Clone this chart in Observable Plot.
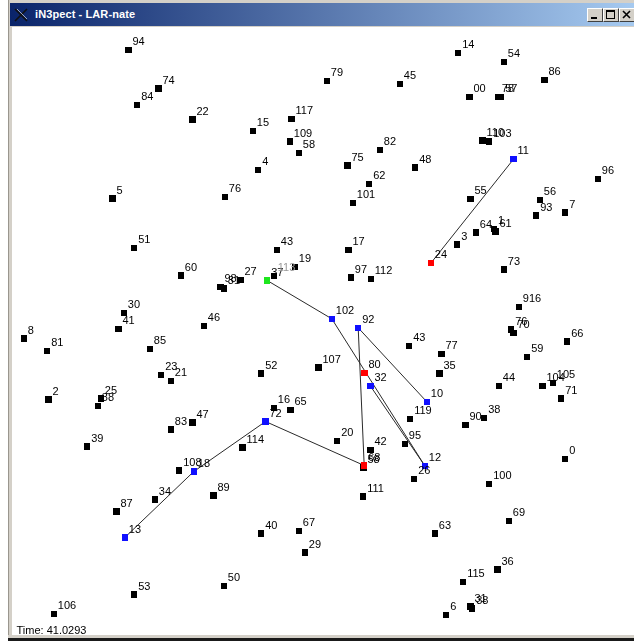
<!DOCTYPE html>
<html><head><meta charset="utf-8">
<script src="https://cdn.jsdelivr.net/npm/d3@7"></script>
<script src="https://cdn.jsdelivr.net/npm/@observablehq/plot@0.6"></script>
<style>
html,body{margin:0;padding:0;width:634px;height:641px;overflow:hidden;background:#fff;}
#outer{position:absolute;left:8px;top:0;width:626px;height:641px;background:#d4d0c8;border-left:1px solid #9a968e;box-sizing:border-box;}
#title{position:absolute;left:10px;top:3px;width:624px;height:23px;background:linear-gradient(to right,#0a246a 0%,#a6caf0 100%);}
#title .txt{position:absolute;left:25px;top:5px;color:#fff;font:bold 11px "Liberation Sans",Arial,sans-serif;white-space:nowrap;letter-spacing:0.1px;}
#title svg.icon{position:absolute;left:4px;top:5px;}
.btn{position:absolute;top:5px;width:16px;height:14px;background:#d4d0c8;box-sizing:border-box;border-top:1px solid #fff;border-left:1px solid #fff;border-right:1px solid #404040;border-bottom:1px solid #404040;}
.btn svg{position:absolute;left:0;top:0;}
#canvas{position:absolute;left:12px;top:27px;width:622px;height:608px;background:#fff;}
#canvas svg{will-change:transform;}
#bottom{position:absolute;left:8px;top:635px;width:626px;height:6px;background:#d4d0c8;border-bottom:3px solid #1a1a1a;box-sizing:border-box;}
</style>
</head><body>
<div id="outer"></div>
<div id="title">
  <svg class="icon" width="14" height="14"><path d="M1,1 L13,13 M13,1 L1,13" stroke="#111" stroke-width="1.6"/><path d="M3,1 L13,11" stroke="#fff" stroke-width="0.6"/></svg>
  <div class="txt">iN3pect - LAR-nate</div>
  <div class="btn" style="left:577px"><svg width="14" height="12"><rect x="3" y="8" width="6" height="2" fill="#000"/></svg></div>
  <div class="btn" style="left:593px"><svg width="14" height="12"><rect x="2.5" y="1.5" width="8" height="8" fill="none" stroke="#000"/><rect x="2" y="1" width="9" height="2" fill="#000"/></svg></div>
  <div class="btn" style="left:609px"><svg width="14" height="12"><path d="M3,2 L10,9 M10,2 L3,9" stroke="#000" stroke-width="1.6"/></svg></div>
</div>
<div id="canvas"></div>
<div id="bottom"></div>
<script>
// Node labels and positions (screen units of the simulation canvas)
const nodeLabel = ["94","74","84","22","5","79","45","117","15","109","58","82","75","48","4","62","76","101",
  "14","54","86","00","78","57","110","103","11","96","55","56","93","7","64","1","61","3","24","73","916",
  "76","70","66","77","59","35","44","104","105","71","10","119","90","38",
  "51","60","30","41","46","8","81","85","23","21","2","25","88","83","47",
  "98","31","27","37","113","19","43","17","97","112","102","92","43","107","52","80","32","16","65","72",
  "39","114","108","18","87","34","13","53","106","89","20","42","68","58","95","12","26","111",
  "40","67","29","50","0","100","69","63","36","115","31","38","6"];
const nodeX = [128,158,136.7,192,112,326.3,399.3,291,252.3,289.3,298.3,379.3,347,414.7,257.7,368.7,224.3,352.3,
  457.7,503.3,544,469,497.3,500.7,482,488.7,513,597.3,470,539.3,535.7,564.7,475.3,493.5,495,456.7,430.3,503.3,518.3,
  510.7,513,566.7,441,526.7,439,498.3,542,552.3,560.7,426.3,409.7,465,483.7,
  133.7,180.3,123.3,118,203.3,23.3,46.7,149.3,160.7,170.3,48,100.3,97.3,170.3,192,
  220,223.3,240,266.7,273.3,294.3,276.3,348,350.3,370.3,331.3,357.7,408.7,318,260.7,364,370,273.3,290,265,
  86.7,242,178.7,193.3,116,154.3,124.3,133.7,53.3,213,336.7,370,363.7,363,404.3,424.3,413.7,362.7,
  260.7,298.3,304.3,223.3,564.7,488.7,508.3,434.3,497,462.7,470,471.7,445.7];
const nodeY = [49.3,88,104.7,119,198,80.7,83.7,118.3,130.7,141,152.3,149.3,165,167,169.3,183.3,196.3,202.7,
  52.7,61.3,79.3,96.3,96.3,96.3,140,141,158.7,178.7,198.3,199.3,215,212,232,228.5,231,244,262.7,269,306.3,
  329,332.3,341,353.3,356.7,373,385.7,385.7,382.7,398,401.3,418.3,424.3,417.3,
  247.3,275,312.7,328.3,325.7,338,350.3,348.7,374.3,380.3,399,398,405.3,429,422,
  286.7,288,279.7,280,275.7,266.5,249.7,249.7,277,278.7,318.3,327.3,345.3,367,373,372.7,385.7,407.3,409.3,421,
  446,447,470,471,511,499,537,594,613.7,495,440.3,449.3,465,467,443.3,465.3,478.3,496,
  533,530.3,552,585.7,458.7,483.7,520.3,533,569,581.7,606,608,614.7];

// Node roles
const relayNodes = ["11","10","12","32","92","102","72","18","13"];
const alertNodes = ["24","80","68"];
const sourceNodes = ["37"];
const faintLabels = ["113"];
const stateNames = ["idle","relay","alert","source"];
const stateColors = ["#000000","#1010ff","#ff0000","#1ee61e"];

// Active links (from -> to)
const edgeFrom = ["13","18","72","68","37","102","32","92","24"];
const edgeTo   = ["18","72","68","92","102","12","12","10","11"];

const timeText = "Time: 41.0293";

const nodes = nodeLabel.map((label, i) => ({
  label, x: nodeX[i], y: nodeY[i],
  state: relayNodes.includes(label) ? "relay" : alertNodes.includes(label) ? "alert" : sourceNodes.includes(label) ? "source" : "idle"
}));
const byLabel = new Map();
nodes.forEach(n => { if (!byLabel.has(n.label)) byLabel.set(n.label, n); });
const edges = edgeFrom.map((f, i) => ({a: byLabel.get(f), b: byLabel.get(edgeTo[i])}));

const W = 622, H = 608;
const font = "Liberation Sans, Arial, sans-serif";
const chart = Plot.plot({
  width: W, height: H, margin: 0,
  style: {background: "transparent", overflow: "visible"},
  x: {domain: [12, 634], range: [0, W], axis: null},
  y: {domain: [27, 635], range: [0, H], axis: null},
  color: {domain: stateNames, range: stateColors},
  marks: [
    Plot.link(edges, {x1: d => d.a.x, y1: d => d.a.y, x2: d => d.b.x, y2: d => d.b.y, stroke: "#2a2a2a", strokeWidth: 1}),
    Plot.dot(nodes.filter(d => d.state === "idle"), {x: "x", y: "y", symbol: "square", r: 3.4, fill: "state", shapeRendering: "crispEdges"}),
    Plot.dot(nodes.filter(d => d.state !== "idle"), {x: "x", y: "y", symbol: "square", r: 3.4, fill: "state", shapeRendering: "crispEdges"}),
    Plot.text(nodes.filter(d => !faintLabels.includes(d.label)), {x: "x", y: "y", text: "label", dx: 4, dy: -5, textAnchor: "start", lineAnchor: "bottom", fontSize: 11, fontFamily: font, fill: "#000"}),
    Plot.text(nodes.filter(d => faintLabels.includes(d.label)), {x: "x", y: "y", text: "label", dx: 4, dy: -5, textAnchor: "start", lineAnchor: "bottom", fontSize: 11, fontFamily: font, fill: "#999"}),
    Plot.text([timeText], {frameAnchor: "bottom-left", text: d => d, dx: 4, dy: -2, textAnchor: "start", lineAnchor: "bottom", fontSize: 11, fontFamily: font, fill: "#000"})
  ]
});
document.getElementById("canvas").appendChild(chart);
</script>
</body></html>
